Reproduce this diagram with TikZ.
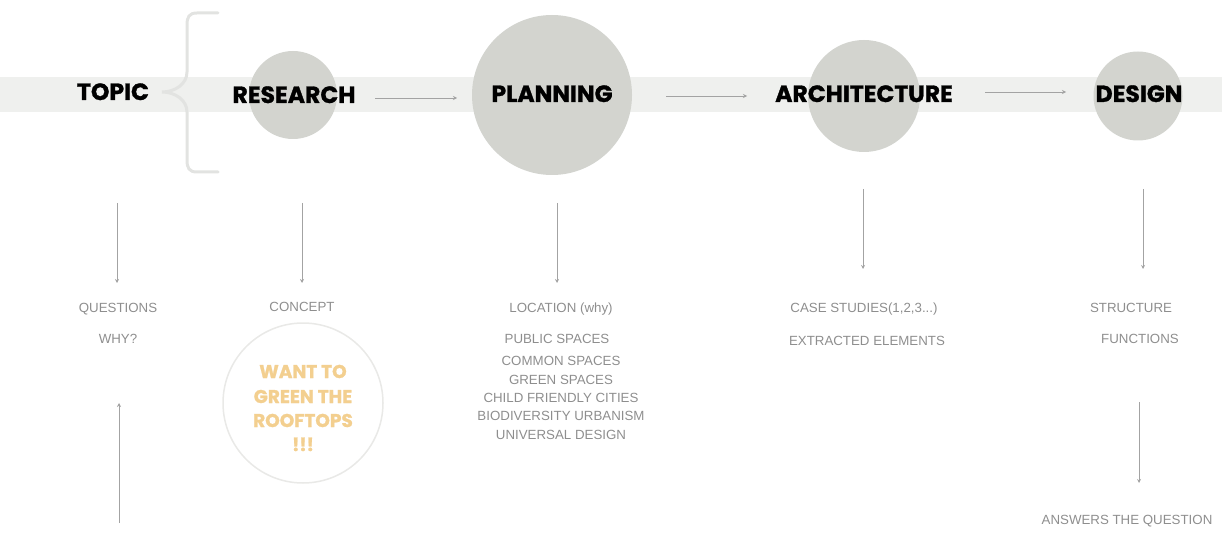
\documentclass[tikz,border=0pt]{standalone}
\usepackage{fontspec}
\setmainfont{Liberation Sans}
\newfontfamily\headfont[BoldFeatures={FakeBold=1.2}]{Poppins}
\usetikzlibrary{arrows.meta,calc}
\definecolor{bandgray}{HTML}{EFF0EE}
\definecolor{blobgray}{HTML}{D3D4CF}
\definecolor{bracegray}{HTML}{E2E3E1}
\definecolor{arrowgray}{HTML}{A3A3A3}
\definecolor{notegray}{HTML}{8E8E8E}
\definecolor{ideaorange}{HTML}{F3CF8F}
\definecolor{ringgray}{HTML}{E9E9E7}
\begin{document}
\begin{tikzpicture}[x=1pt,y=-1pt,
  head/.style={font=\headfont\bfseries\fontsize{23.5}{26}\selectfont, text=black, inner sep=0pt, anchor=base},
  blob/.style={circle, fill=blobgray, inner sep=0pt},
  note/.style={font=\fontsize{13.3}{16}\selectfont, text=notegray, inner sep=0pt, anchor=base},
  idea/.style={font=\headfont\bfseries\fontsize{18.5}{24}\selectfont, text=ideaorange, inner sep=0pt, anchor=base},
  flow/.style={draw=arrowgray, line width=0.9pt, -{Stealth[length=4pt,width=4pt]}}]
\useasboundingbox (0,0) rectangle (1222,537);

% timeline band
\fill[bandgray] (0,77) rectangle (1222,112);

% stage discs
\node[blob, minimum size=88pt]  (rescirc)  at (293,95)  {};
\node[blob, minimum size=160pt] (plancirc) at (552,95)  {};
\node[blob, minimum size=112pt] (archcirc) at (864,96)  {};
\node[blob, minimum size=89pt]  (descirc)  at (1138,96) {};

% brace after the topic
\draw[bracegray, line width=3pt, line cap=round]
  (218,13) -- (197,13) .. controls (189,13) and (187,17) .. (187,25) -- (187,72)
  .. controls (187,84) and (175,92) .. (162,92)
  .. controls (175,92) and (187,100) .. (187,112) -- (187,160)
  .. controls (187,168) and (189,172) .. (197,172) -- (218,172);

% stage titles
\node[head] (topic)    at (113,100)  {TOPIC};
\node[head] (research) at (294,103)  {RESEARCH};
\node[head] (planning) at (552,102)  {PLANNING};
\node[head] (arch)     at (864,102)  {ARCHITECTURE};
\node[head] (design)   at (1139,102) {DESIGN};

% arrows along the band
\coordinate (h1a) at (375,98);  \coordinate (h1b) at (457,98);
\coordinate (h2a) at (666,96);  \coordinate (h2b) at (747,96);
\coordinate (h3a) at (985,92);  \coordinate (h3b) at (1066,92);
\draw[flow] (h1a) -- (h1b);
\draw[flow] (h2a) -- (h2b);
\draw[flow] (h3a) -- (h3b);

% topic column
\node[note] (questions) at (118,312) {QUESTIONS};
\node[note] (why)       at (118,343) {WHY?};
\coordinate (topA) at (117,203);
\coordinate (topB) at (117,283);
\draw[flow] (topA) -- (topB);
\coordinate (upA) at (119,523);
\coordinate (upB) at (119,403);
\draw[flow] (upA) -- (upB);

% research column
\node[note] (concept) at (302,311) {CONCEPT};
\coordinate (resA) at (302,203);
\coordinate (resB) at (302,283);
\draw[flow] (resA) -- (resB);
\node[circle, draw=ringgray, line width=1.5pt, fill=white, minimum size=160pt, inner sep=0pt] (ring) at (303,403) {};
\foreach \t/\yy [count=\i] in {WANT TO/378, GREEN THE/403, ROOFTOPS/427, !!!/451}
  \node[idea, name=idea\i] at (303,\yy) {\t};

% planning column
\coordinate (plaA) at (557,203);
\coordinate (plaB) at (557,283);
\draw[flow] (plaA) -- (plaB);
\node[note] (loc)    at (561,312) {LOCATION (why)};
\node[note] (public) at (557,343) {PUBLIC SPACES};
\node[note] (common) at (561,365) {COMMON SPACES};
\node[note] (green)  at (561,384) {GREEN SPACES};
\node[note] (child)  at (561,402) {CHILD FRIENDLY CITIES};
\node[note] (bio)    at (561,420) {BIODIVERSITY URBANISM};
\node[note] (univ)   at (561,439) {UNIVERSAL DESIGN};

% architecture column
\coordinate (arcA) at (863,189);
\coordinate (arcB) at (863,269);
\draw[flow] (arcA) -- (arcB);
\node[note] (cases)   at (864,312) {CASE STUDIES(1,2,3...)};
\node[note] (extract) at (867,345) {EXTRACTED ELEMENTS};

% design column
\coordinate (desA) at (1143,189);
\coordinate (desB) at (1143,269);
\draw[flow] (desA) -- (desB);
\node[note] (structure) at (1131,312) {STRUCTURE};
\node[note] (functions) at (1140,343) {FUNCTIONS};
\coordinate (ansA) at (1139,402);
\coordinate (ansB) at (1139,483);
\draw[flow] (ansA) -- (ansB);
\node[note] (answers) at (1127,524) {ANSWERS THE QUESTION};
\end{tikzpicture}
\end{document}
